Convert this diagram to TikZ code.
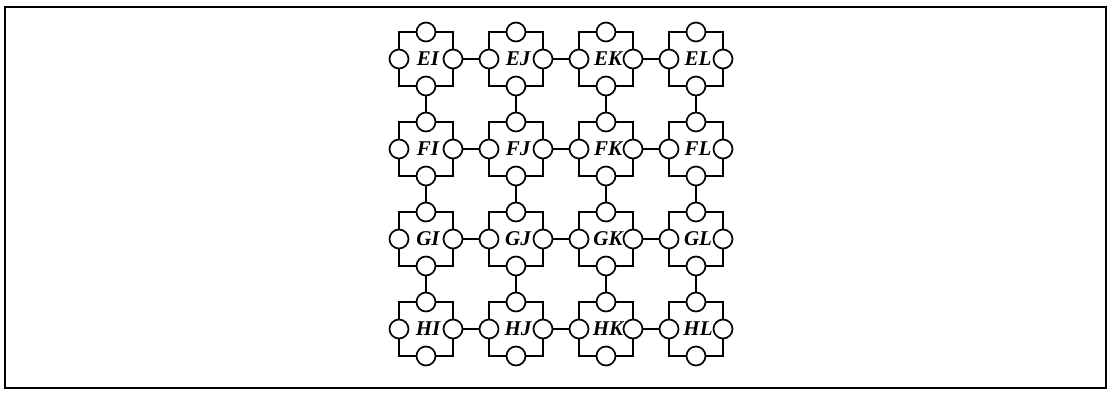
\documentclass[tikz,border=0pt]{standalone}
\usepackage{fontspec}
\setmainfont{Liberation Serif}
\begin{document}
\begin{tikzpicture}[x=1pt,y=-1pt,
  port/.style={circle, draw, fill=white, minimum size=19pt, inner sep=0pt, line width=1.7pt},
  cellbox/.style={draw, line width=1.8pt},
  lab/.style={font=\fontsize{21}{21}\selectfont\bfseries\itshape, inner sep=0pt},
  link/.style={line width=1.7pt},
  frame/.style={draw, line width=2.5pt}]
\useasboundingbox (0,0) rectangle (1113,394);
\draw[frame] (5,7) rectangle (1106,388);
\foreach \r [count=\j from 0] in {E,F,G,H}
 \foreach \c [count=\i from 0] in {I,J,K,L} {
   \pgfmathsetmacro\cx{426+90*\i}
   \pgfmathsetmacro\cy{59+90*\j}
   \draw[cellbox] (\cx-27,\cy-27) rectangle (\cx+27,\cy+27);
   \node[lab] (\r\c) at (\cx+2,\cy) {\r\c};
   \node[port] (\r\c-n) at (\cx,\cy-27) {};
   \node[port] (\r\c-s) at (\cx,\cy+27) {};
   \node[port] (\r\c-w) at (\cx-27,\cy) {};
   \node[port] (\r\c-e) at (\cx+27,\cy) {};
 }
\foreach \r in {E,F,G,H} {
  \draw[link] (\r I-e) -- (\r J-w);
  \draw[link] (\r J-e) -- (\r K-w);
  \draw[link] (\r K-e) -- (\r L-w);
}
\foreach \c in {I,J,K,L} {
  \draw[link] (E\c-s) -- (F\c-n);
  \draw[link] (F\c-s) -- (G\c-n);
  \draw[link] (G\c-s) -- (H\c-n);
}
\end{tikzpicture}
\end{document}
